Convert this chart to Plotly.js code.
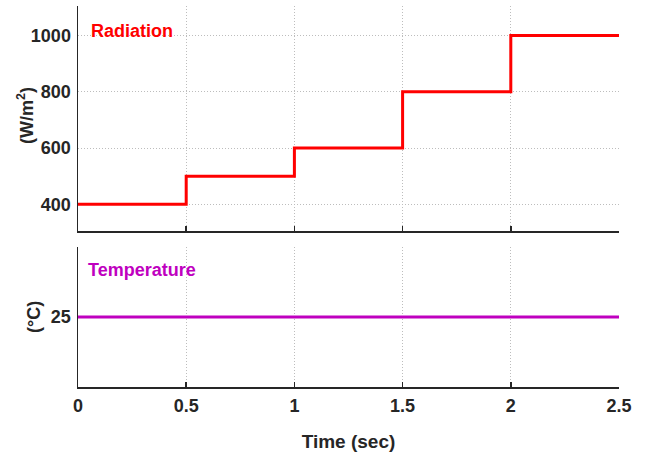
<!DOCTYPE html>
<html>
<head>
<meta charset="utf-8">
<script src="https://cdn.plot.ly/plotly-3.0.1.min.js"></script>
<style>html,body{margin:0;padding:0;background:#fff;}#chart{width:648px;height:463px;}</style>
</head>
<body>
<div id="chart"></div>
<script>
const timeSteps = [0, 0.5, 1, 1.5, 2, 2.5];
const radiation = [400, 500, 600, 800, 1000, 1000];
const tempTime = [0, 2.5];
const temperature = [25, 25];
const xTicks = [0, 0.5, 1, 1.5, 2, 2.5];
const xTickLabels = ['0', '0.5', '1', '1.5', '2', '2.5'];
const radTicks = [400, 600, 800, 1000];
const tempTicks = [25];

const FONT = 'Liberation Sans, Arial, Helvetica, sans-serif';
const DARK = '#262626';
const GRID = '#bdbdbd';

const traces = [
  {x: timeSteps, y: radiation, type: 'scatter', mode: 'lines', line: {shape: 'hv', color: '#ff0000', width: 3}, xaxis: 'x', yaxis: 'y', hoverinfo: 'skip'},
  {x: tempTime, y: temperature, type: 'scatter', mode: 'lines', line: {color: '#bf00bf', width: 3}, xaxis: 'x2', yaxis: 'y2', hoverinfo: 'skip'}
];

const axisCommon = {
  showline: true, linecolor: DARK, linewidth: 1.5, mirror: false,
  showgrid: true, gridcolor: GRID, griddash: '1px,2px', gridwidth: 1,
  zeroline: false,
  tickfont: {family: FONT, size: 18, color: DARK, weight: 'bold'}
};

const layout = {
  width: 648, height: 463,
  margin: {l: 78, r: 29, t: 6, b: 76},
  paper_bgcolor: '#fff', plot_bgcolor: '#fff',
  showlegend: false,
  font: {family: FONT, color: DARK},
  xaxis: Object.assign({}, axisCommon, {
    domain: [0, 1], anchor: 'y', range: [0, 2.5],
    tickvals: xTicks, showticklabels: false,
    ticks: 'inside', ticklen: 5, tickwidth: 1.5, tickcolor: DARK
  }),
  yaxis: Object.assign({}, axisCommon, {
    domain: [0.4094, 1], anchor: 'x', range: [305, 1105],
    tickvals: radTicks, ticks: '', ticklabelstandoff: 2
  }),
  xaxis2: Object.assign({}, axisCommon, {
    domain: [0, 1], anchor: 'y2', range: [0, 2.5],
    tickvals: xTicks, ticktext: xTickLabels,
    ticks: 'inside', ticklen: 5, tickwidth: 1.5, tickcolor: DARK, ticklabelstandoff: 2,
    title: {text: '<b>Time (sec)</b>', font: {family: FONT, size: 19, color: DARK}, standoff: 19}
  }),
  yaxis2: Object.assign({}, axisCommon, {
    domain: [0, 0.3675], anchor: 'x2', range: [20, 30],
    tickvals: tempTicks, ticks: '', ticklabelstandoff: 2
  }),
  annotations: [
    {x: 0.05, y: 1017, xref: 'x', yref: 'y', text: '<b>Radiation</b>', showarrow: false, xanchor: 'left', yanchor: 'middle', font: {family: FONT, size: 18, color: '#ff0000'}},
    {x: 0.035, y: 28.35, xref: 'x2', yref: 'y2', text: '<b>Temperature</b>', showarrow: false, xanchor: 'left', yanchor: 'middle', font: {family: FONT, size: 18, color: '#bf00bf'}},
    {x: 26, y: 116, xref: 'paper', yref: 'paper', text: '<b>(W/m<sup>2</sup>)</b>', textangle: -90, showarrow: false, xanchor: 'center', yanchor: 'middle', font: {family: FONT, size: 18, color: DARK}},
    {x: 34, y: 317, xref: 'paper', yref: 'paper', text: '<b>(°C)</b>', textangle: -90, showarrow: false, xanchor: 'center', yanchor: 'middle', font: {family: FONT, size: 18, color: DARK}}
  ]
};
// convert pixel positions of the y-axis titles into paper coordinates
const plotW = 648 - 78 - 29, plotH = 463 - 6 - 76;
layout.annotations[2].x = (26 - 78) / plotW; layout.annotations[2].y = (463 - 76 - 116) / plotH;
layout.annotations[3].x = (34 - 78) / plotW; layout.annotations[3].y = (463 - 76 - 317) / plotH;

Plotly.newPlot('chart', traces, layout, {displayModeBar: false, staticPlot: true});
</script>
</body>
</html>
